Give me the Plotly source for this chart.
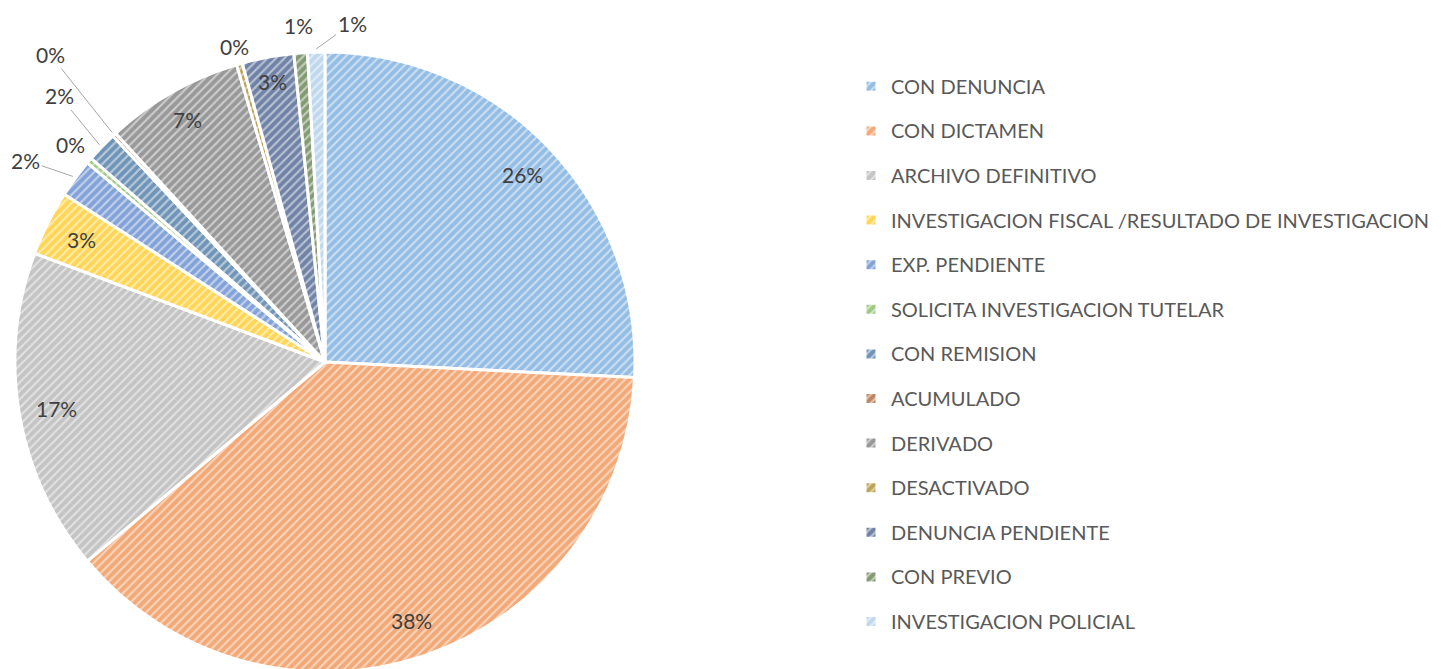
import math
import plotly.graph_objects as go

# data
labels = [
    "CON DENUNCIA", "CON DICTAMEN", "ARCHIVO DEFINITIVO",
    "INVESTIGACION FISCAL /RESULTADO DE INVESTIGACION", "EXP. PENDIENTE",
    "SOLICITA INVESTIGACION TUTELAR", "CON REMISION", "ACUMULADO",
    "DERIVADO", "DESACTIVADO", "DENUNCIA PENDIENTE", "CON PREVIO",
    "INVESTIGACION POLICIAL",
]
values = [258, 381, 168, 34, 20, 3, 16, 2, 72, 3, 27, 7, 9]
colors = [
    "#5B9BD5", "#ED7D31", "#A5A5A5", "#FFC000", "#4472C4", "#70AD47",
    "#255E91", "#9E480E", "#636363", "#997300", "#264478", "#43682B",
    "#9DC3E6",
]

W, H = 1444, 669
OFF = 8  # browser body margin
FONT = "Lato"
TXT = "#404040"


def tint(hexc, f=0.68):
    r, g, b = (int(hexc[i:i + 2], 16) for i in (1, 3, 5))
    r, g, b = (round(c + (255 - c) * f) for c in (r, g, b))
    return "#%02x%02x%02x" % (r, g, b)


# pie placement (screen px -> paper fractions, margins are zero)
PCX, PCY, PR = 325, 362, 310
dom_x = [(PCX - PR - OFF) / W, (PCX + PR - OFF) / W]
dom_y = [1 - (PCY + PR - OFF) / H, 1 - (PCY - PR - OFF) / H]
cx = PCX - OFF
cy = PCY - OFF
R = PR

# how each percentage label is placed: ("in", radius factor), ("out", radius factor) or ("arrow", ax, ay)
label_place = [
    ("in", 0.88), ("in", 0.88), ("in", 0.88), ("in", 0.88),
    ("arrow", -47, -16), ("out", 1.08), ("arrow", -40, -49),
    ("arrow", -62, -78), ("in", 0.9), ("out", 1.06), ("in", 0.92),
    ("out", 1.09), ("arrow", 36, -26),
]

fig = go.Figure()
fig.add_trace(go.Pie(
    labels=["<span style='font-size:20px;baseline-shift:5px'>%s</span>" % l
            for l in labels],
    values=values,
    sort=False,
    direction="clockwise",
    rotation=0,
    textinfo="none",
    hoverinfo="label+percent",
    domain=dict(x=dom_x, y=dom_y),
    marker=dict(
        colors=[tint(c) for c in colors],
        line=dict(color="white", width=3),
        pattern=dict(shape="/", fgcolor=colors, size=6, solidity=0.65,
                     fillmode="overlay"),
    ),
))

total = sum(values)
annotations = []
cum = 0
for v, place in zip(values, label_place):
    ang = math.radians((cum + v / 2) / total * 360)
    cum += v
    txt = "%d%%" % round(100 * v / total)
    r = R * 1.01 if place[0] == "arrow" else R * place[1]
    px = cx + r * math.sin(ang)
    py = cy - r * math.cos(ang)
    a = dict(x=px / W, y=1 - py / H, xref="paper", yref="paper", text=txt,
             font=dict(family=FONT, size=21, color=TXT))
    if place[0] == "arrow":
        a.update(showarrow=True, ax=place[1], ay=place[2], arrowhead=0,
                 arrowwidth=1, arrowcolor="#A6A6A6", standoff=0)
    else:
        a.update(showarrow=False, xanchor="center", yanchor="middle")
    annotations.append(a)

fig.update_layout(
    width=W, height=H,
    margin=dict(l=0, r=0, t=0, b=0),
    paper_bgcolor="white",
    font=dict(family=FONT, color="#595959"),
    annotations=annotations,
    legend=dict(
        x=(851 - OFF) / W, xanchor="left",
        y=1 - (59 - OFF) / H, yanchor="top",
        font=dict(family=FONT, size=32, color="#595959"),
        bgcolor="rgba(0,0,0,0)",
    ),
)

fig.write_html("out.html")
